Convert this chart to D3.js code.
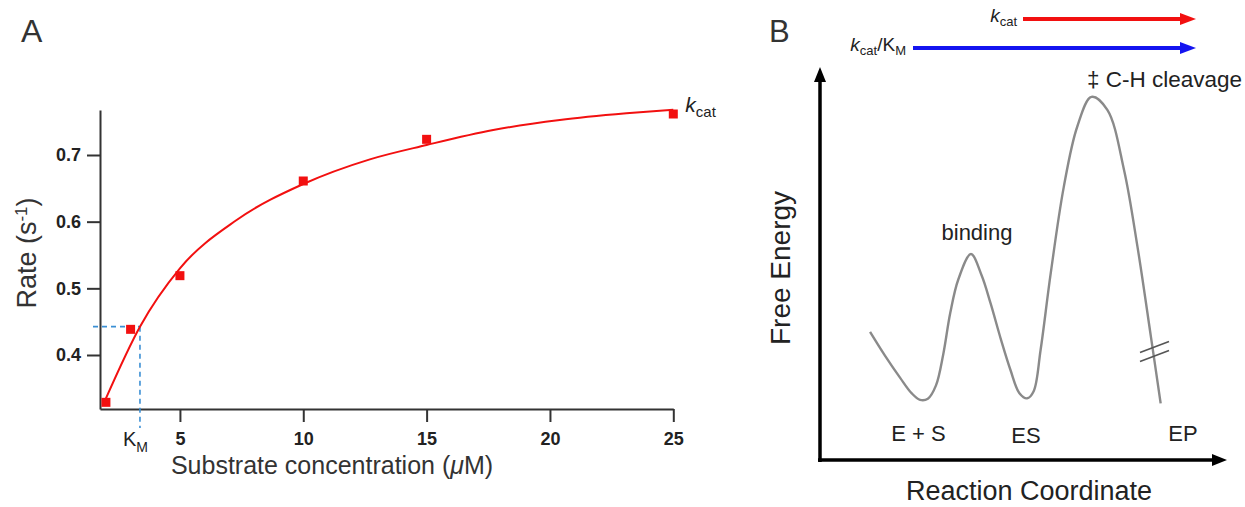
<!DOCTYPE html>
<html><head><meta charset="utf-8">
<script src="https://cdn.jsdelivr.net/npm/d3@7"></script>
<style>body{margin:0;background:#fff}svg{display:block;font-family:"Liberation Sans",Arial,Helvetica,sans-serif}</style>
</head><body><svg id="c" width="1245" height="507"></svg>
<script>
// ---- Panel A data ----
const substrate = [2, 3, 5, 10, 15, 25];
const rate = [0.329, 0.4385, 0.519, 0.661, 0.7235, 0.7615];
const fitSubstrate = [2.0, 3.38, 5.0, 7.3, 10.0, 12.7, 15.0, 17.7, 20.4, 23.1, 25.0];
const fitRate = [0.335, 0.4425, 0.53, 0.6025, 0.6565, 0.6935, 0.715, 0.7375, 0.7525, 0.7625, 0.768];
const xTicks = [5, 10, 15, 20, 25];
const yTicks = [0.4, 0.5, 0.6, 0.7];
const km = 3.38;
const kmRate = 0.4425;

// ---- Panel B data ----
const reactionCoord = [12.3, 16, 19.7, 22.5, 24.6, 26.5, 28.5, 30.3, 32, 34, 37.1, 39.7, 41.9, 44.5, 46.8, 49, 50.9, 52.5, 54.2, 56.7, 59.9, 63.2, 66.7, 70.6, 74.7, 78, 81.3, 83.7];
const freeEnergy = [32.6, 26.5, 20.9, 17, 15.3, 15.6, 19, 27, 37.4, 46, 52.4, 47, 39.9, 30.5, 22.9, 17, 15.7, 17.5, 28, 47.6, 69.5, 84.8, 92.4, 89.1, 73.8, 54.3, 31.4, 14.4];
const stateLabels = ["E + S", "ES", "EP"];
const stateCoord = [24.2, 50.6, 89.2];

const svg = d3.select("#c");
const RED = "#f21010", BLUE = "#1414f0", GRAY = "#8a8a8a", AX = "#333";

// ===== Panel A =====
const x = d3.scaleLinear().domain([1.76, 25]).range([100, 673.3]);
const y = d3.scaleLinear().domain([0.319, 0.7675]).range([409, 110]);
const gA = svg.append("g");

gA.append("text").attr("x", 21).attr("y", 42).attr("font-size", 32).attr("fill", AX).text("A");

const xAxis = gA.append("g").attr("transform", "translate(0,409)")
  .call(d3.axisBottom(x).tickValues(xTicks).tickSize(13).tickSizeOuter(0).tickPadding(10).tickFormat(d3.format("d")));
const yAxis = gA.append("g").attr("transform", "translate(100,0)")
  .call(d3.axisLeft(y).tickValues(yTicks).tickSize(13).tickSizeOuter(0).tickPadding(6).tickFormat(d3.format(".1f")));
[xAxis, yAxis].forEach(a => {
  a.attr("font-size", 18).attr("font-family", '"Liberation Sans",Arial,sans-serif');
  a.selectAll("path,line").attr("stroke", AX).attr("stroke-width", 2);
  a.selectAll("text").attr("font-size", 18).attr("font-weight", "bold").attr("fill", "#222");
});

// KM dashed guides
gA.append("line").attr("x1", x(x.domain()[0]) - 7).attr("x2", x(km)).attr("y1", y(kmRate)).attr("y2", y(kmRate))
  .attr("stroke", "#3b8fd4").attr("stroke-width", 1.6).attr("stroke-dasharray", "5,4");
gA.append("line").attr("x1", x(km)).attr("x2", x(km)).attr("y1", y(kmRate)).attr("y2", 428)
  .attr("stroke", "#3b8fd4").attr("stroke-width", 1.6).attr("stroke-dasharray", "5,4");

// fit curve
const fit = fitSubstrate.map((s, i) => [s, fitRate[i]]);
gA.append("path").datum(fit)
  .attr("d", d3.line().x(d => x(d[0])).y(d => y(d[1])).curve(d3.curveMonotoneX))
  .attr("fill", "none").attr("stroke", RED).attr("stroke-width", 2);

// data points
const ms = 9;
gA.selectAll("rect.pt").data(substrate.map((s, i) => [s, rate[i]])).join("rect")
  .attr("class", "pt").attr("x", d => x(d[0]) - ms / 2).attr("y", d => y(d[1]) - ms / 2)
  .attr("width", ms).attr("height", ms).attr("fill", RED);

// KM label
const kmT = gA.append("text").attr("x", x(km) - 17).attr("y", 446).attr("font-size", 20).attr("fill", "#222");
kmT.append("tspan").text("K");
kmT.append("tspan").attr("dy", 6).attr("font-size", 14).text("M");

// kcat label
const kcT = gA.append("text").attr("x", x(25) + 12).attr("y", 112).attr("font-size", 21).attr("fill", "#222");
kcT.append("tspan").attr("font-style", "italic").text("k");
kcT.append("tspan").attr("dy", 5).attr("font-size", 15).text("cat");

// axis titles
const sT = gA.append("text").attr("x", 332).attr("y", 474).attr("text-anchor", "middle").attr("font-size", 25).attr("fill", "#333");
sT.append("tspan").text("Substrate concentration (");
sT.append("tspan").attr("font-style", "italic").text("\u03BC");
sT.append("tspan").text("M)");
const rT = gA.append("text").attr("transform", "translate(36,253) rotate(-90)").attr("text-anchor", "middle")
  .attr("font-size", 27).attr("fill", "#333");
rT.append("tspan").text("Rate (s");
rT.append("tspan").attr("dy", -9).attr("font-size", 17).text("-1");
rT.append("tspan").attr("dy", 9).text(")");

// ===== Panel B =====
const xB = d3.scaleLinear().domain([0, 100]).range([820, 1227]);
const yB = d3.scaleLinear().domain([0, 100]).range([460, 67]);
const gB = svg.append("g");

gB.append("text").attr("x", 769).attr("y", 42).attr("font-size", 31).attr("fill", AX).text("B");

// axes with arrowheads
gB.append("line").attr("x1", xB(0)).attr("x2", xB(0)).attr("y1", yB(0) + 2).attr("y2", yB(100) + 12)
  .attr("stroke", "#000").attr("stroke-width", 3.5);
gB.append("line").attr("x1", xB(0) - 2).attr("x2", xB(100) - 12).attr("y1", yB(0)).attr("y2", yB(0))
  .attr("stroke", "#000").attr("stroke-width", 3.5);
gB.append("path").attr("d", `M${xB(0)},${yB(100)} L${xB(0) - 6},${yB(100) + 15} L${xB(0) + 6},${yB(100) + 15}Z`).attr("fill", "#000");
gB.append("path").attr("d", `M${xB(100)},${yB(0)} L${xB(100) - 15},${yB(0) - 6} L${xB(100) - 15},${yB(0) + 6}Z`).attr("fill", "#000");

// energy profile
const prof = reactionCoord.map((r, i) => [r, freeEnergy[i]]);
gB.append("path").datum(prof)
  .attr("d", d3.line().x(d => xB(d[0])).y(d => yB(d[1])).curve(d3.curveCatmullRom.alpha(0.5)))
  .attr("fill", "none").attr("stroke", GRAY).attr("stroke-width", 2.4);

// break marks
[-4.5, 4.5].forEach(o => {
  gB.append("line").attr("x1", 1140).attr("y1", 357 + o).attr("x2", 1169).attr("y2", 346 + o)
    .attr("stroke", "#555").attr("stroke-width", 1.6);
});

// labels
gB.selectAll("text.st").data(stateLabels).join("text").attr("class", "st")
  .attr("x", (d, i) => xB(stateCoord[i])).attr("y", (d, i) => i === 1 ? 443 : 441)
  .attr("text-anchor", "middle").attr("font-size", 22).attr("fill", "#222").text(d => d);
gB.append("text").attr("x", 977).attr("y", 240).attr("text-anchor", "middle").attr("font-size", 22).attr("fill", "#222").text("binding");
gB.append("text").attr("x", 1087).attr("y", 87).attr("font-size", 22.5).attr("fill", "#222").text("\u2021 C-H cleavage");

gB.append("text").attr("x", 1029).attr("y", 500).attr("text-anchor", "middle").attr("font-size", 27).attr("fill", "#222").text("Reaction Coordinate");
gB.append("text").attr("transform", "translate(790,268) rotate(-90)").attr("text-anchor", "middle").attr("font-size", 28).attr("fill", "#222").text("Free Energy");

// rate arrows
function arrow(x1, x2, yy, col) {
  gB.append("line").attr("x1", x1).attr("x2", x2 - 12).attr("y1", yy).attr("y2", yy).attr("stroke", col).attr("stroke-width", 4);
  gB.append("path").attr("d", `M${x2},${yy} L${x2 - 16},${yy - 6} L${x2 - 16},${yy + 6}Z`).attr("fill", col);
}
arrow(1023, 1196, 19, RED);
arrow(913, 1196, 48, BLUE);
const k1 = gB.append("text").attr("x", 1017).attr("y", 22).attr("text-anchor", "end").attr("font-size", 19).attr("fill", "#222");
k1.append("tspan").attr("font-style", "italic").text("k");
k1.append("tspan").attr("dy", 4).attr("font-size", 13).text("cat");
const k2 = gB.append("text").attr("x", 906).attr("y", 51).attr("text-anchor", "end").attr("font-size", 19).attr("fill", "#222");
k2.append("tspan").attr("font-style", "italic").text("k");
k2.append("tspan").attr("dy", 4).attr("font-size", 13).text("cat");
k2.append("tspan").attr("dy", -4).text("/K");
k2.append("tspan").attr("dy", 4).attr("font-size", 13).text("M");
</script></body></html>
